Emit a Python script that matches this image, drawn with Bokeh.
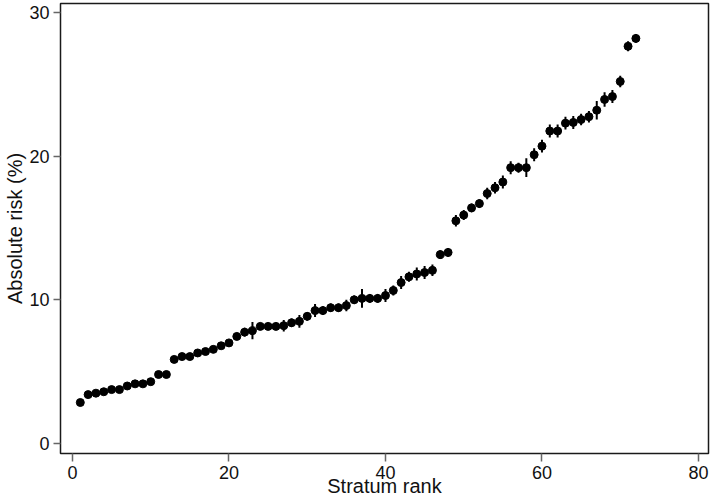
from bokeh.plotting import figure
from bokeh.models import ColumnDataSource, Range1d, FixedTicker
from bokeh.embed import file_html
from bokeh.resources import INLINE

# ---- data ----
rank = list(range(1, 73))
risk = [2.85, 3.4, 3.5, 3.6, 3.75, 3.75, 4.0, 4.15, 4.15, 4.3,
        4.8, 4.8, 5.85, 6.05, 6.05, 6.3, 6.4, 6.55, 6.8, 7.0,
        7.45, 7.75, 7.85, 8.15, 8.15, 8.15, 8.2, 8.4, 8.5, 8.85,
        9.25, 9.25, 9.45, 9.45, 9.6, 10.0, 10.1, 10.1, 10.1, 10.3,
        10.65, 11.2, 11.6, 11.8, 11.9, 12.05, 13.15, 13.3, 15.5, 15.9,
        16.4, 16.7, 17.4, 17.8, 18.2, 19.2, 19.2, 19.2, 20.1, 20.7,
        21.75, 21.75, 22.3, 22.35, 22.55, 22.75, 23.2, 23.95, 24.15, 25.2,
        27.65, 28.2]
half_ci = [0.15, 0.15, 0.15, 0.15, 0.15, 0.15, 0.15, 0.15, 0.15, 0.15,
           0.2, 0.2, 0.2, 0.2, 0.2, 0.2, 0.2, 0.2, 0.2, 0.2,
           0.25, 0.3, 0.6, 0.25, 0.25, 0.25, 0.4, 0.3, 0.45, 0.3,
           0.45, 0.3, 0.3, 0.3, 0.4, 0.3, 0.65, 0.3, 0.3, 0.45,
           0.35, 0.45, 0.35, 0.45, 0.45, 0.4, 0.3, 0.3, 0.4, 0.35,
           0.3, 0.3, 0.4, 0.4, 0.45, 0.45, 0.35, 0.65, 0.45, 0.45,
           0.45, 0.45, 0.45, 0.45, 0.4, 0.4, 0.65, 0.5, 0.45, 0.4,
           0.35, 0.3]
x_ticks = [0, 20, 40, 60, 80]
y_ticks = [0, 10, 20, 30]
x_title = "Stratum rank"
y_title = "Absolute risk (%)"

lower = [r - h for r, h in zip(risk, half_ci)]
upper = [r + h for r, h in zip(risk, half_ci)]
src = ColumnDataSource(dict(x=rank, y=risk, lo=lower, hi=upper))

p = figure(width=710, height=502, output_backend="svg", toolbar_location=None,
           x_range=Range1d(-1.53, 81.28), y_range=Range1d(-0.70, 30.63),
           min_border_left=60, min_border_right=2, min_border_top=3,
           min_border_bottom=49)

p.segment(x0="x", y0="lo", x1="x", y1="hi", source=src,
          line_color="black", line_width=2)
p.scatter(x="x", y="y", source=src, size=8, marker="circle",
          fill_color="black", line_color="black")

p.xgrid.visible = False
p.ygrid.visible = False
p.outline_line_color = "#1a1a1a"
p.outline_line_width = 1.5
p.background_fill_color = "white"
p.border_fill_color = "white"

p.xaxis.ticker = FixedTicker(ticks=x_ticks)
p.yaxis.ticker = FixedTicker(ticks=y_ticks)
p.xaxis.axis_label = x_title
p.yaxis.axis_label = y_title

for ax in (p.xaxis, p.yaxis):
    ax.axis_line_color = None
    ax.major_tick_line_color = "#666666"
    ax.major_tick_line_width = 1.5
    ax.major_tick_in = 0
    ax.minor_tick_line_color = None
    ax.major_label_text_font = "Liberation Sans"
    ax.major_label_text_font_size = "18px"
    ax.major_label_text_color = "#111111"
    ax.axis_label_text_font = "Liberation Sans"
    ax.axis_label_text_font_size = "20px"
    ax.axis_label_text_font_style = "normal"
    ax.axis_label_text_color = "#111111"

p.xaxis.major_tick_out = 8
p.xaxis.major_label_standoff = 4
p.xaxis.axis_label_standoff = -7
p.yaxis.major_tick_out = 7
p.yaxis.major_label_standoff = 4
p.yaxis.axis_label_standoff = 0
p.yaxis.major_label_orientation = "horizontal"

open("out.html", "w").write(file_html(p, INLINE))
